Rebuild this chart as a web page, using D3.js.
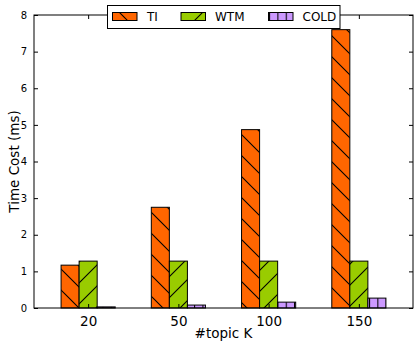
<!DOCTYPE html>
<html>
<head>
<meta charset="utf-8">
<script src="https://cdn.jsdelivr.net/npm/d3@7/dist/d3.min.js"></script>
<style>
  html, body { margin: 0; padding: 0; background: #fff; }
  svg { display: block; font-family: "DejaVu Sans", sans-serif; }
</style>
</head>
<body>
<script>
const categories = ["20", "50", "100", "150"];
const seriesNames = ["TI", "WTM", "COLD"];
const tiValues = [1.17, 2.75, 4.87, 7.6];
const wtmValues = [1.28, 1.28, 1.28, 1.28];
const coldValues = [0.03, 0.08, 0.16, 0.27];
const yTicks = [0, 1, 2, 3, 4, 5, 6, 7, 8];

const seriesValues = [tiValues, wtmValues, coldValues];
const colors = ["#ff6600", "#99cc00", "#cc99ff"];
const hatchIds = ["hatchBack", "hatchFwd", "hatchVert"];

const W = 414, H = 341;
const mLeft = 34, mRight = 413, mTop = 15, mBottom = 308;

const svg = d3.select("body").append("svg").attr("width", W).attr("height", H);
const defs = svg.append("defs");

function diagPattern(id, color, dir) {
  const s = 21;
  const p = defs.append("pattern").attr("id", id).attr("patternUnits", "userSpaceOnUse")
    .attr("width", s).attr("height", s).attr("x", dir > 0 ? 2 : 5).attr("y", 0);
  p.append("rect").attr("width", s).attr("height", s).attr("fill", color);
  const path = dir > 0
    ? `M0,0 L${s},${s} M${-s},0 L${s},${2*s} M0,${-s} L${2*s},${s}`
    : `M0,${s} L${s},0 M${-s},${s} L${s},${-s} M0,${2*s} L${2*s},0`;
  p.append("path").attr("d", path).attr("stroke", "#000").attr("stroke-width", 1.1).attr("fill", "none");
}
diagPattern("hatchBack", colors[0], 1);
diagPattern("hatchFwd", colors[1], -1);
{
  const s = 8.33;
  const p = defs.append("pattern").attr("id", "hatchVert").attr("patternUnits", "userSpaceOnUse")
    .attr("width", s).attr("height", 10).attr("x", 2.5).attr("y", 0);
  p.append("rect").attr("width", s).attr("height", 10).attr("fill", colors[2]);
  p.append("line").attr("x1", 0.5).attr("x2", 0.5).attr("y1", 0).attr("y2", 10)
    .attr("stroke", "#000").attr("stroke-width", 1.1);
}

const x = d3.scalePoint().domain(categories).range([mLeft, mRight]).padding(0.6);
const step = x.step();
const inner = d3.scaleBand().domain(seriesNames).range([-0.3 * step, 0.3 * step]).padding(0);
const y = d3.scaleLinear().domain([0, 8]).range([mBottom, mTop]);

seriesNames.forEach((name, si) => {
  svg.append("g").selectAll("rect").data(categories).join("rect")
    .attr("x", c => x(c) + inner(name))
    .attr("width", inner.bandwidth())
    .attr("y", (c, i) => y(seriesValues[si][i]))
    .attr("height", (c, i) => y(0) - y(seriesValues[si][i]))
    .attr("fill", `url(#${hatchIds[si]})`)
    .attr("stroke", "#000").attr("stroke-width", 1);
});

svg.append("rect").attr("x", mLeft).attr("y", mTop).attr("width", mRight - mLeft).attr("height", mBottom - mTop)
  .attr("fill", "none").attr("stroke", "#000").attr("stroke-width", 1);

const yAxisL = d3.axisLeft(y).tickValues(yTicks).tickSize(-4).tickPadding(7).tickFormat(d3.format("d"));
const gL = svg.append("g").attr("transform", `translate(${mLeft},0)`).call(yAxisL);
gL.select(".domain").remove();
gL.selectAll("text").attr("font-size", 10).attr("font-family", "DejaVu Sans").attr("fill", "#000");
gL.selectAll("line").attr("stroke", "#000");

const yAxisR = d3.axisRight(y).tickValues(yTicks).tickSize(-4).tickFormat("");
const gR = svg.append("g").attr("transform", `translate(${mRight},0)`).call(yAxisR);
gR.select(".domain").remove();
gR.selectAll("line").attr("stroke", "#000");

const xAxisB = d3.axisBottom(x).tickSize(-4).tickPadding(8);
const gB = svg.append("g").attr("transform", `translate(0,${mBottom})`).call(xAxisB);
gB.select(".domain").remove();
gB.selectAll("text").attr("font-size", 13.5).attr("font-family", "DejaVu Sans").attr("fill", "#000");
gB.selectAll("line").attr("stroke", "#000");

const xAxisT = d3.axisTop(x).tickSize(-4).tickFormat("");
const gT = svg.append("g").attr("transform", `translate(0,${mTop})`).call(xAxisT);
gT.select(".domain").remove();
gT.selectAll("line").attr("stroke", "#000");

svg.append("text").attr("x", (mLeft + mRight) / 2).attr("y", 337.5).attr("text-anchor", "middle")
  .attr("font-size", 13.5).text("#topic K");
svg.append("text").attr("transform", `translate(18.5,${(mTop + mBottom) / 2}) rotate(-90)`)
  .attr("text-anchor", "middle").attr("font-size", 13.5).text("Time Cost (ms)");

const lg = svg.append("g");
lg.append("rect").attr("x", 107.5).attr("y", 5.5).attr("width", 232.5).attr("height", 23)
  .attr("fill", "#fff").attr("stroke", "#000").attr("stroke-width", 1);
const patchX = [112, 180.5, 268];
const labelX = [147, 215, 302.5];
seriesNames.forEach((name, i) => {
  lg.append("rect").attr("x", patchX[i] + 0.5).attr("y", 12.5).attr("width", 24.5).attr("height", 8)
    .attr("fill", `url(#${hatchIds[i]})`).attr("stroke", "#000").attr("stroke-width", 1);
  lg.append("text").attr("x", labelX[i]).attr("y", 21).attr("font-size", 12).text(name);
});
</script>
</body>
</html>
